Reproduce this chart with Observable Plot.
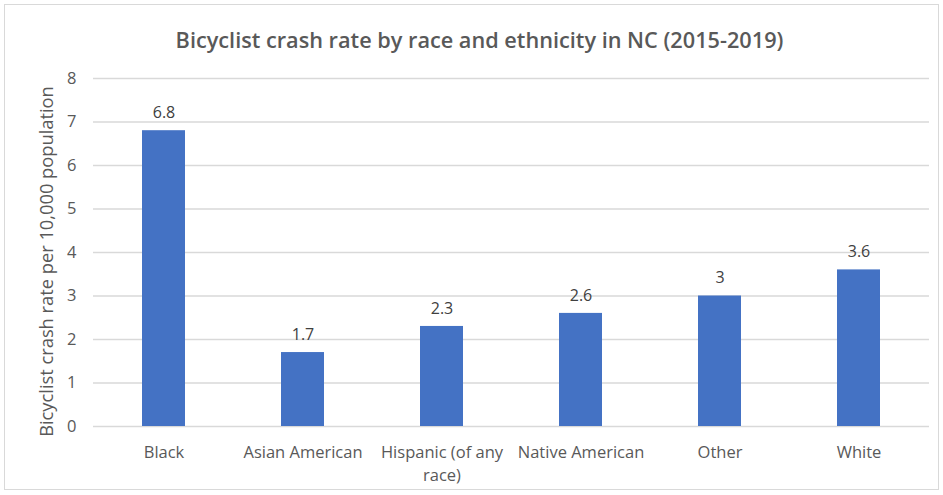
<!DOCTYPE html>
<html>
<head>
<meta charset="utf-8">
<script src="https://cdn.jsdelivr.net/npm/d3@7"></script>
<script src="https://cdn.jsdelivr.net/npm/@observablehq/plot@0.6"></script>
<style>
  html, body { margin: 0; padding: 0; background: #fff; }
  body { width: 943px; height: 495px; position: relative; overflow: hidden; font-family: "Open Sans", sans-serif; }
  #frame { position: absolute; left: 4px; top: 4px; width: 935px; height: 486px; border: 1.5px solid #d9d9d9; box-sizing: border-box; }
  #title { position: absolute; left: 0; top: 0; width: 943px; height: 60px; text-align: center; line-height: 80px; font-size: 21.7px; font-weight: 600; color: #595959; padding-left: 16px; box-sizing: border-box; white-space: nowrap; }
  #chart { position: absolute; left: 0; top: 60px; }
</style>
</head>
<body>
<div id="frame"></div>
<div id="title">Bicyclist crash rate by race and ethnicity in NC (2015-2019)</div>
<div id="chart"></div>
<script>
const categories = ["Black", "Asian American", "Hispanic (of any race)", "Native American", "Other", "White"];
const tickLabels = ["Black", "Asian American", "Hispanic (of any\nrace)", "Native American", "Other", "White"];
const rates = [6.8, 1.7, 2.3, 2.6, 3, 3.6];
const yTicks = [0, 1, 2, 3, 4, 5, 6, 7, 8];

const data = categories.map((c, i) => ({category: c, rate: rates[i]}));
const labelMap = new Map(categories.map((c, i) => [c, tickLabels[i]]));

const chart = Plot.plot({
  width: 943,
  height: 435,
  marginLeft: 93,
  marginRight: 14,
  marginTop: 18,
  marginBottom: 69,
  style: {fontFamily: "Open Sans, sans-serif", background: "transparent", overflow: "visible"},
  x: {domain: categories, paddingInner: 0.69, paddingOuter: 0.345, label: null},
  y: {domain: [0, 8], label: null},
  marks: [
    Plot.gridY(yTicks, {stroke: "#d9d9d9", strokeOpacity: 1, strokeWidth: 1.3}),
    Plot.barY(data, {x: "category", y: "rate", fill: "#4472c4"}),
    Plot.text(data, {x: "category", y: "rate", text: d => String(d.rate), dy: -18, fontSize: 16, fill: "#404040"}),
    Plot.axisY(yTicks, {tickSize: 0, tickPadding: 17, fontSize: 16.5, color: "#595959", label: null}),
    Plot.axisX({tickSize: 0, tickPadding: 16, fontSize: 16.5, color: "#595959", lineHeight: 1.35, tickFormat: d => labelMap.get(d), label: null}),
    Plot.text(["Bicyclist crash rate per 10,000 population"], {
      frameAnchor: "left", textAnchor: "middle", lineAnchor: "middle", dx: -46, dy: 9, rotate: -90, fontSize: 18.3, fill: "#595959", text: d => d
    })
  ]
});
document.getElementById("chart").appendChild(chart);
</script>
</body>
</html>
